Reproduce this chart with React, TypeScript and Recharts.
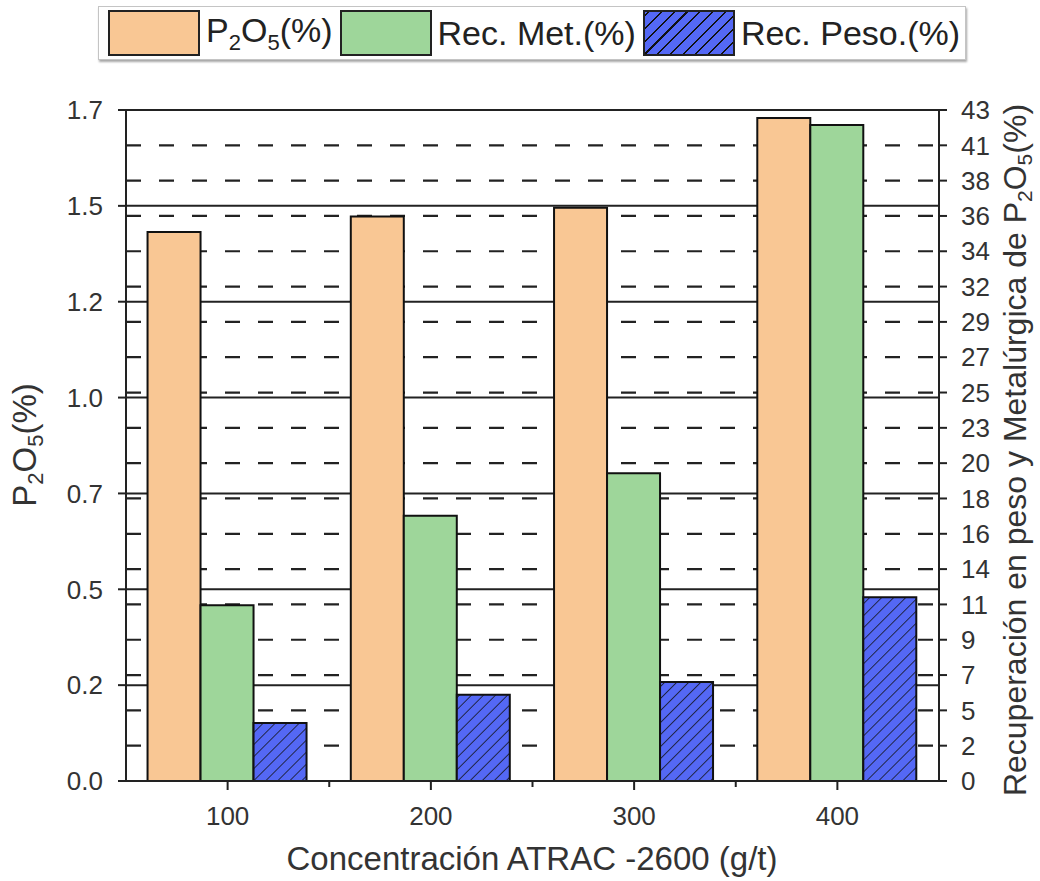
import { ComposedChart, Bar, XAxis, YAxis, CartesianGrid } from "recharts";

const categories = ["100", "200", "300", "400"];
const p2o5 = [1.432, 1.472, 1.495, 1.729];
const recMet = [11.2, 16.9, 19.6, 41.8];
const recPeso = [3.7, 5.5, 6.3, 11.7];

const leftTicks = [0, 0.25, 0.5, 0.75, 1.0, 1.25, 1.5, 1.75];
const leftTickLabels = ["0.0", "0.2", "0.5", "0.7", "1.0", "1.2", "1.5", "1.7"];
const rightTicks = [0, 2.25, 4.5, 6.75, 9, 11.25, 13.5, 15.75, 18, 20.25, 22.5, 24.75, 27, 29.25, 31.5, 33.75, 36, 38.25, 40.5, 42.75];
const rightTickLabels = ["0", "2", "5", "7", "9", "11", "14", "16", "18", "20", "23", "25", "27", "29", "32", "34", "36", "38", "41", "43"];

const data = categories.map((c, i) => ({
  cat: c,
  p2o5: p2o5[i],
  recMet: recMet[i],
  recPeso: recPeso[i],
}));

const FONT = "'Liberation Sans', Arial, sans-serif";
const W = 1040;
const H = 881;
const LEFT_W = 126;
const RIGHT_W = 101;
const halfBand = (W - LEFT_W - RIGHT_W) / categories.length / 2;

const orange = "#F9C794";
const green = "#9ED69A";
const blue = "#5468F5";
const ink = "#222";

function XTick({ x, y, payload, index }: any) {
  return (
    <g>
      <line x1={x} y1={y} x2={x} y2={y + 9} stroke={ink} strokeWidth={2} />
      {index < categories.length - 1 && (
        <line x1={x + halfBand} y1={y} x2={x + halfBand} y2={y + 6} stroke={ink} strokeWidth={2} />
      )}
      <text x={x} y={y + 44} textAnchor="middle" fontSize={26} fill="#333" fontFamily={FONT}>
        {payload.value}
      </text>
    </g>
  );
}

function Swatch({ color, hatch }: { color: string; hatch?: boolean }) {
  return (
    <div
      style={{
        width: 88,
        height: 42,
        border: "2px solid #222",
        background: hatch
          ? `repeating-linear-gradient(-45deg, ${color} 0px, ${color} 7.5px, #111 7.5px, #111 9px)`
          : color,
        flexShrink: 0,
      }}
    />
  );
}

function LegendBox() {
  const txt: React.CSSProperties = { fontSize: 34, color: "#222", margin: "0 7px 0 6px", whiteSpace: "nowrap" };
  return (
    <div
      style={{
        position: "absolute",
        left: 98,
        top: 6,
        width: 868,
        height: 54,
        border: "1px solid #c4c4c4",
        boxShadow: "1px 2px 2px rgba(0,0,0,0.35)",
        display: "flex",
        alignItems: "center",
        paddingLeft: 9,
        boxSizing: "border-box",
        fontFamily: FONT,
        background: "#fff",
      }}
    >
      <Swatch color={orange} />
      <span style={txt}>
        P<sub style={{ fontSize: 22 }}>2</sub>O<sub style={{ fontSize: 22 }}>5</sub>(%)
      </span>
      <Swatch color={green} />
      <span style={txt}>Rec. Met.(%)</span>
      <Swatch color={blue} hatch />
      <span style={txt}>Rec. Peso.(%)</span>
    </div>
  );
}

export default function App() {
  return (
    <div style={{ position: "absolute", left: 0, top: 0, width: W, height: H, background: "#fff" }}>
      <ComposedChart
        width={W}
        height={H}
        data={data}
        margin={{ top: 110, right: 0, bottom: 0, left: 0 }}
        barCategoryGap="10.6%"
        barGap={0}
      >
        <defs>
          <pattern id="hatch" patternUnits="userSpaceOnUse" width="8.5" height="8.5" patternTransform="rotate(45)">
            <rect width="8.5" height="8.5" fill={blue} />
            <line x1="0" y1="0" x2="0" y2="8.5" stroke="#111" strokeWidth="1.5" />
          </pattern>
        </defs>
        <CartesianGrid yAxisId="right" vertical={false} stroke={ink} strokeWidth={2.2} strokeDasharray="15 18" />
        <CartesianGrid yAxisId="left" vertical={false} stroke={ink} strokeWidth={2} />
        <XAxis
          dataKey="cat"
          height={100}
          tickLine={false}
          tickSize={0}
          tickMargin={0}
          tick={<XTick />}
          axisLine={{ stroke: ink, strokeWidth: 2 }}
          label={{
            content: () => (
              <text x={532} y={870} textAnchor="middle" fontSize={33} fill="#333" fontFamily={FONT}>
                Concentración ATRAC -2600 (g/t)
              </text>
            ),
          }}
        />
        <YAxis
          yAxisId="left"
          width={LEFT_W}
          domain={[0, 1.75]}
          ticks={leftTicks}
          interval={0}
          tickFormatter={(v: number) => leftTickLabels[leftTicks.indexOf(v)]}
          tickSize={8}
          tickMargin={15}
          tick={{ fontSize: 26, fill: "#333", fontFamily: FONT }}
          tickLine={{ stroke: ink, strokeWidth: 2 }}
          axisLine={{ stroke: ink, strokeWidth: 2 }}
          label={{
            content: () => (
              <text transform="translate(36,445) rotate(-90)" textAnchor="middle" fontSize={33} fill="#333" fontFamily={FONT}>
                <tspan>P</tspan>
                <tspan fontSize={22} dy={7}>2</tspan>
                <tspan dy={-7}>O</tspan>
                <tspan fontSize={22} dy={7}>5</tspan>
                <tspan dy={-7}>(%)</tspan>
              </text>
            ),
          }}
        />
        <YAxis
          yAxisId="right"
          orientation="right"
          width={RIGHT_W}
          domain={[0, 42.75]}
          ticks={rightTicks}
          interval={0}
          tickFormatter={(v: number) => rightTickLabels[rightTicks.indexOf(v)]}
          tickSize={8}
          tickMargin={14}
          tick={{ fontSize: 26, fill: "#333", fontFamily: FONT }}
          tickLine={{ stroke: ink, strokeWidth: 2 }}
          axisLine={{ stroke: ink, strokeWidth: 2 }}
          label={{
            content: () => (
              <text transform="translate(1026,450) rotate(-90)" textAnchor="middle" fontSize={32} fill="#333" fontFamily={FONT}>
                <tspan>Recuperación en peso y Metalúrgica de P</tspan>
                <tspan fontSize={21} dy={6}>2</tspan>
                <tspan dy={-6}>O</tspan>
                <tspan fontSize={21} dy={6}>5</tspan>
                <tspan dy={-6}>(%)</tspan>
              </text>
            ),
          }}
        />
        <Bar yAxisId="left" dataKey="p2o5" fill={orange} stroke="#111" strokeWidth={2} isAnimationActive={false} />
        <Bar yAxisId="right" dataKey="recMet" fill={green} stroke="#111" strokeWidth={2} isAnimationActive={false} />
        <Bar yAxisId="right" dataKey="recPeso" fill="url(#hatch)" stroke="#111" strokeWidth={2} isAnimationActive={false} />
      </ComposedChart>
      <LegendBox />
    </div>
  );
}
